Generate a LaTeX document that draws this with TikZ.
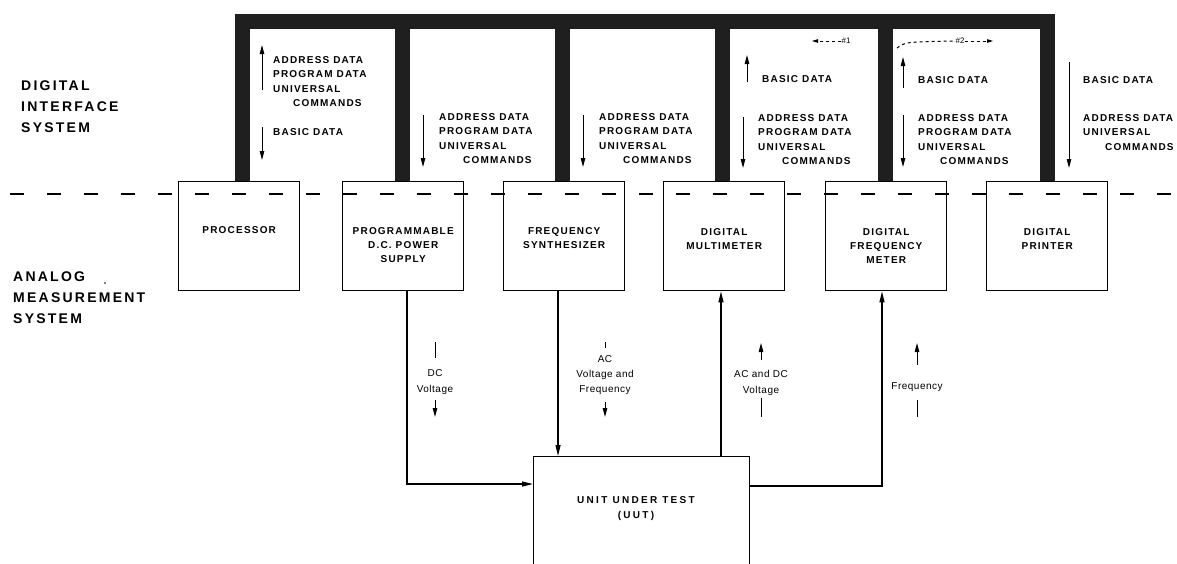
\documentclass[tikz,border=0pt]{standalone}
\usepackage{fontspec}
\setmainfont{Liberation Sans}
\newfontfamily\capf[LetterSpace=12]{Liberation Sans}
\newfontfamily\uutf[LetterSpace=23]{Liberation Sans}
\newfontfamily\bigf[LetterSpace=16]{Liberation Sans}
\newfontfamily\sigf[LetterSpace=5]{Liberation Sans}
\usetikzlibrary{arrows.meta}
\begin{document}
\begin{tikzpicture}[x=1pt,y=-1pt,
  box/.style={draw,line width=1.4pt,minimum width=121pt,minimum height=109pt,inner sep=0pt,anchor=north west},
  boxlbl/.style={font={\capf\bfseries\fontsize{10pt}{14pt}\selectfont},align=center,inner sep=0pt,anchor=north},
  collbl/.style={font={\capf\bfseries\fontsize{10pt}{14.3pt}\selectfont},align=left,inner sep=0pt,anchor=north west},
  biglbl/.style={font={\bigf\bfseries\fontsize{14pt}{21pt}\selectfont},align=left,inner sep=0pt,anchor=north west},
  siglbl/.style={font={\sigf\fontsize{10pt}{15.5pt}\selectfont},align=center,inner sep=0pt,anchor=north},
  bus/.style={line width=15pt,draw=black!88,line join=miter,line cap=butt},
  dashline/.style={line width=1.2pt,dash pattern=on 14pt off 23pt},
  conn/.style={line width=1.2pt,-{Triangle[length=11pt,width=5pt]}},
  sarr/.style={line width=1pt,-{Triangle[length=9pt,width=4.5pt]}},
  sline/.style={line width=1pt}
]
\useasboundingbox (0,0) rectangle (1177,563);
\fill[white] (0,0) rectangle (1177,563);

% dashed separation line
\draw[dashline] (10,194) -- (1177,194);

% instrument boxes
\node[box] (proc) at (178,181) {};
\node[box] (pdc)  at (342,181) {};
\node[box] (fs)   at (503,181) {};
\node[box] (dmm)  at (663,181) {};
\node[box] (dfm)  at (825,181) {};
\node[box] (prn)  at (986,181) {};
\node[box,minimum width=216pt,minimum height=130pt] (uut) at (533,456) {};

% box labels
\node[boxlbl] at ([yshift=-45.5pt]proc.north) {PROCESSOR};
\node[boxlbl] at ([yshift=-46.5pt]pdc.north) {PROGRAMMABLE\\D.C. POWER\\SUPPLY};
\node[boxlbl] at ([yshift=-46.5pt]fs.north) {FREQUENCY\\SYNTHESIZER};
\node[boxlbl] at ([yshift=-47.5pt]dmm.north) {DIGITAL\\MULTIMETER};
\node[boxlbl] at ([yshift=-47.5pt]dfm.north) {DIGITAL\\FREQUENCY\\METER};
\node[boxlbl] at ([yshift=-47.5pt]prn.north) {DIGITAL\\PRINTER};
\node[boxlbl,font={\uutf\bfseries\fontsize{10pt}{15pt}\selectfont}] at (636,496.5) {UNIT UNDER TEST\\(UUT)};

% digital interface bus
\coordinate (b1) at (242,21);
\coordinate (b2) at (402,21);
\coordinate (b3) at (562,21);
\coordinate (b4) at (722,21);
\coordinate (b5) at (885,21);
\coordinate (b6) at (1047,21);
\draw[bus] (b1 |- proc.north) -- (b1) -- (b6) -- (b6 |- prn.north);
\draw[bus] (b2) -- (b2 |- pdc.north);
\draw[bus] (b3) -- (b3 |- fs.north);
\draw[bus] (b4) -- (b4 |- dmm.north);
\draw[bus] (b5) -- (b5 |- dfm.north);

% #1 / #2 markers
\node[font=\fontsize{8pt}{8pt}\selectfont,inner sep=0pt] (n1) at (846,41) {\#1};
\coordinate (n1end) at (812,41);
\draw[sline,dashed,-{Triangle[length=6pt,width=3.5pt]}] (n1.west) -- (n1end);
\node[font=\fontsize{8pt}{8pt}\selectfont,inner sep=0pt] (n2) at (960,41) {\#2};
\coordinate (n2start) at (897,48);
\coordinate (n2end) at (993,41);
\draw[sline,dashed] (n2start) .. controls (905,42) .. (n2.west);
\draw[sline,dashed,-{Triangle[length=6pt,width=3.5pt]}] (n2.east) -- (n2end);

% left side titles
\node[biglbl] (dis) at (21,81) {DIGITAL\\INTERFACE\\SYSTEM};
\node[biglbl] (ams) at (13,272) {ANALOG\\MEASUREMENT\\SYSTEM};
\fill (105,283) circle (0.9pt);

% column labels on the bus
\node[collbl] (p1) at (273,56.4) {ADDRESS DATA\\PROGRAM DATA\\UNIVERSAL\\\hspace*{20pt}COMMANDS};
\node[collbl,anchor=west] (p2) at (273,132) {BASIC DATA};
\draw[sarr] (262,90) -- (262,45);
\draw[sarr] (262,127) -- (262,160);

\node[collbl] (q1) at (439,113.4) {ADDRESS DATA\\PROGRAM DATA\\UNIVERSAL\\\hspace*{24pt}COMMANDS};
\draw[sarr] (423,115) -- (423,167);

\node[collbl] (r1) at (599,113.4) {ADDRESS DATA\\PROGRAM DATA\\UNIVERSAL\\\hspace*{24pt}COMMANDS};
\draw[sarr] (583,115) -- (583,167);

\node[collbl,anchor=west] (s0) at (762,79) {BASIC DATA};
\node[collbl] (s1) at (758,114.4) {ADDRESS DATA\\PROGRAM DATA\\UNIVERSAL\\\hspace*{24pt}COMMANDS};
\draw[sarr] (747,82) -- (747,55);
\draw[sarr] (743,117) -- (743,168);

\node[collbl,anchor=west] (t0) at (918,80) {BASIC DATA};
\node[collbl] (t1) at (918,114.4) {ADDRESS DATA\\PROGRAM DATA\\UNIVERSAL\\\hspace*{22pt}COMMANDS};
\draw[sarr] (903,88) -- (903,57);
\draw[sarr] (903,115) -- (903,167);

\node[collbl,anchor=west] (u0) at (1083,80) {BASIC DATA};
\node[collbl] (u1) at (1083,114.4) {ADDRESS DATA\\UNIVERSAL\\\hspace*{22pt}COMMANDS};
\draw[sarr] (1069,62) -- (1069,168);

% analog connectors
\coordinate (j1) at (407,484);
\draw[conn] (j1 |- pdc.south) -- (j1) -- (j1 -| uut.west);
\coordinate (j2) at (558,0);
\draw[conn] (j2 |- fs.south) -- (j2 |- uut.north);
\coordinate (j3) at (721,0);
\draw[conn] (j3 |- uut.north) -- (j3 |- dmm.south);
\coordinate (j4) at (882,486);
\draw[conn] (j4 -| uut.east) -- (j4) -- (j4 |- dfm.south);

% analog signal labels
\node[siglbl] (a1) at (435,369.4) {DC\\Voltage};
\draw[sline] (435,342) -- (435,358);
\draw[sarr] (435,400) -- (435,417);

\node[siglbl,font={\sigf\fontsize{10pt}{15pt}\selectfont}] (a2) at (605,355.4) {AC\\Voltage and\\Frequency};
\draw[sline] (605,342) -- (605,348);
\draw[sarr] (605,402) -- (605,417);

\node[siglbl] (a3) at (761,370.4) {AC and DC\\Voltage};
\draw[sarr] (761,360) -- (761,343);
\draw[sline] (761,398) -- (761,417);

\node[siglbl,anchor=base] (a4) at (917,389.6) {Frequency};
\draw[sarr] (917,365) -- (917,343);
\draw[sline] (917,400) -- (917,417);
\end{tikzpicture}
\end{document}
